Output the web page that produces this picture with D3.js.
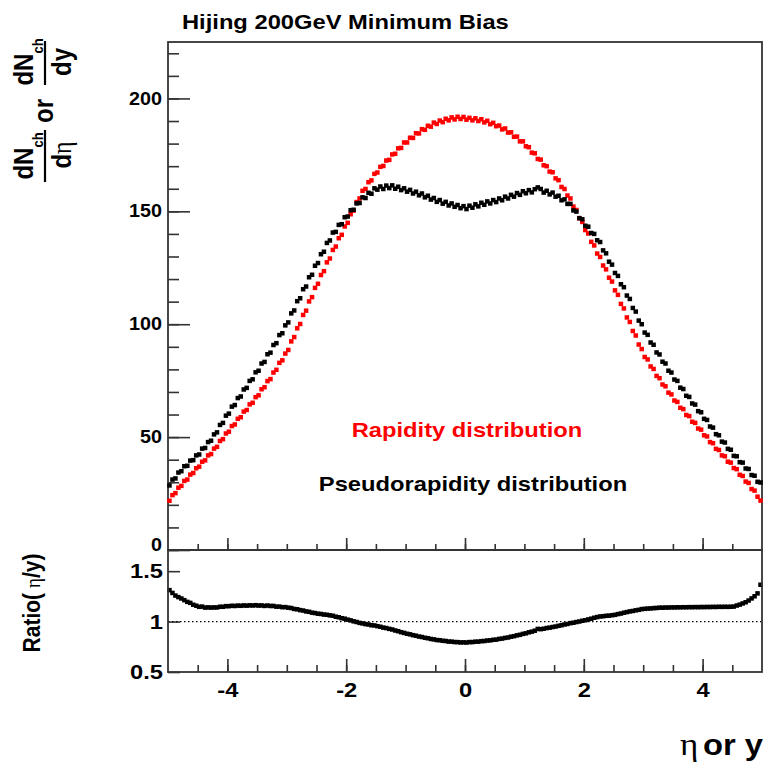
<!DOCTYPE html>
<html>
<head>
<meta charset="utf-8">
<script src="https://cdn.jsdelivr.net/npm/d3@7"></script>
<style>
  body { margin: 0; background: #fff; }
  text { font-family: "Liberation Sans", Arial, Helvetica, sans-serif; font-weight: bold; }
</style>
</head>
<body>
<script>
// Histogram binning: 200 bins of 0.05 from -5 to 5
const binStart = -5;
const binWidth = 0.05;

// dN/dy (rapidity), bin by bin from -5 to 5
const rapidity = [
  21.8, 24.3, 25.2, 27.6, 28.4, 30.6, 31.2, 33.4, 34.1, 36.2,
  36.9, 39.1, 39.7, 41.9, 42.5, 44.9, 45.7, 48.3, 49.1, 51.6,
  52.4, 54.9, 55.6, 58.1, 58.8, 61.3, 62.0, 64.5, 65.2, 67.7,
  68.5, 71.2, 72.1, 74.8, 75.7, 78.6, 79.8, 82.9, 84.0, 87.0,
  88.6, 92.4, 94.3, 98.2, 100.1, 104.1, 106.0, 110.1, 112.0, 116.1,
  117.9, 121.8, 123.5, 127.4, 129.1, 132.9, 134.4, 138.1, 139.6, 143.3,
  144.9, 148.7, 150.3, 154.1, 155.7, 159.1, 159.9, 162.9, 163.7, 166.6,
  167.2, 169.7, 170.1, 172.5, 172.8, 175.2, 175.5, 177.9, 178.1, 180.5,
  180.5, 182.6, 182.5, 184.6, 184.5, 186.4, 186.1, 187.9, 187.5, 189.3,
  188.7, 190.2, 189.5, 191.0, 190.3, 191.6, 190.7, 191.9, 190.9, 191.8,
  190.6, 191.4, 190.3, 191.2, 190.0, 190.8, 189.4, 190.1, 188.6, 189.2,
  187.7, 188.0, 186.3, 186.7, 184.9, 185.0, 183.0, 183.1, 181.0, 181.0,
  178.8, 178.4, 176.0, 175.7, 173.2, 172.9, 170.4, 170.0, 167.6, 167.3,
  164.6, 163.8, 160.8, 159.9, 157.0, 155.7, 152.1, 150.6, 146.9, 145.3,
  141.7, 140.2, 136.5, 134.9, 131.3, 129.8, 126.0, 124.3, 120.6, 118.9,
  115.0, 113.0, 109.0, 107.0, 103.0, 101.0, 97.0, 95.0, 91.0, 89.0,
  85.5, 84.4, 81.3, 80.2, 77.1, 76.1, 73.3, 72.5, 69.7, 68.9,
  66.2, 65.6, 63.0, 62.4, 59.8, 59.3, 56.8, 56.3, 53.8, 53.3,
  50.8, 50.3, 47.8, 47.3, 44.8, 44.3, 41.9, 41.5, 39.1, 38.7,
  36.3, 35.8, 33.3, 32.8, 30.3, 29.7, 27.0, 26.3, 23.6, 21.9
];

// dN/deta (pseudorapidity), same bins
const pseudorapidity = [
  28.6, 31.2, 31.7, 34.3, 34.9, 37.1, 37.3, 39.6, 39.8, 41.9,
  42.3, 44.9, 45.2, 47.8, 48.4, 51.2, 52.1, 55.4, 56.3, 59.5,
  60.4, 63.5, 64.2, 67.3, 68.0, 71.1, 71.8, 74.9, 75.6, 78.7,
  79.4, 82.6, 83.3, 86.7, 87.4, 90.8, 91.6, 95.2, 96.0, 99.5,
  100.8, 104.8, 106.1, 110.2, 111.5, 115.5, 116.7, 120.8, 121.9, 125.9,
  127.1, 131.0, 132.1, 136.0, 137.1, 140.6, 140.9, 144.0, 144.3, 147.4,
  147.7, 150.5, 150.7, 153.5, 153.7, 156.2, 155.9, 158.2, 157.8, 160.2,
  159.6, 161.0, 159.9, 161.4, 160.3, 161.5, 160.0, 160.9, 159.4, 160.2,
  158.7, 159.5, 157.9, 158.7, 157.1, 157.9, 156.2, 156.9, 155.2, 155.9,
  154.2, 155.0, 153.4, 154.2, 152.6, 153.5, 152.0, 152.8, 151.4, 152.3,
  151.0, 152.5, 151.6, 153.1, 152.2, 153.8, 152.9, 154.4, 153.5, 155.0,
  154.1, 155.7, 154.9, 156.5, 155.7, 157.3, 156.5, 158.1, 157.3, 158.9,
  158.0, 159.4, 158.4, 159.8, 160.6, 159.9, 158.3, 159.1, 157.5, 158.3,
  156.5, 156.9, 154.9, 155.3, 153.3, 153.3, 150.4, 149.9, 147.0, 146.5,
  143.6, 143.2, 140.4, 140.0, 137.2, 136.4, 132.7, 131.4, 127.7, 126.4,
  122.7, 121.4, 117.7, 116.4, 112.7, 111.2, 107.2, 105.6, 101.6, 100.0,
  96.3, 95.3, 91.9, 90.9, 87.5, 86.6, 83.4, 82.6, 79.4, 78.6,
  75.5, 74.9, 71.9, 71.3, 68.3, 67.8, 64.9, 64.4, 61.5, 61.0,
  58.1, 57.6, 54.7, 54.2, 51.3, 50.8, 48.0, 47.6, 44.8, 44.4,
  41.7, 41.5, 38.9, 38.7, 36.1, 35.9, 33.2, 32.9, 30.2, 29.9
];

// Tick values
const yTicksTop = [0, 50, 100, 150, 200];
const yTicksRatio = [0.5, 1, 1.5];
const xTicks = [-4, -2, 0, 2, 4];

// Bin centres and the eta/y ratio
const centers = rapidity.map((d, i) => binStart + binWidth * (i + 0.5));
const ratio = pseudorapidity.map((d, i) => d / rapidity[i]);

// Page geometry
const W = 765, H = 765;
const SX = 1.13; // the reference picture is a bit wider than tall: stretch text
const L = 168, R = 762, T1 = 42, B1 = 550, B2 = 672;
const FRAME = "#333";
const plain = d => String(d); // plain hyphen minus, like the reference

const svg = d3.select("body").append("svg")
    .attr("width", W)
    .attr("height", H);

const x = d3.scaleLinear().domain([-5, 5]).range([L, R]);
const yTop = d3.scaleLinear().domain([0, 225]).range([B1, T1]);
const yRat = d3.scaleLinear().domain([0.5, 1.7]).range([B2, B1 + 1]);

// Stretch axis labels horizontally around their anchor
function stretch(g, size) {
    g.attr("font-family", null).attr("font-size", null);
    g.selectAll("text").each(function () {
        const t = d3.select(this);
        const tx = +t.attr("x") || 0;
        t.attr("x", 0)
            .attr("font-size", size)
            .attr("fill", "#000")
            .attr("transform", `translate(${tx},0) scale(${SX},1)`);
    });
}

// Draw one axis layer without the domain line
function axisLayer(gen, tx, ty, size) {
    const g = svg.append("g")
        .attr("transform", `translate(${tx},${ty})`)
        .call(gen);
    g.select(".domain").remove();
    g.selectAll("line").attr("stroke", FRAME).attr("stroke-width", 1.6);
    if (size) stretch(g, size);
    return g;
}

// ---- upper pad ----
axisLayer(d3.axisLeft(yTop).tickValues(d3.range(0, 225, 10))
    .tickSize(-11).tickFormat(""), L, 0);
const yAxisTop = axisLayer(d3.axisLeft(yTop).tickValues(yTicksTop)
    .tickSize(-22).tickPadding(6).tickFormat(plain), L, 0, 17.5);
// ROOT lifts the "0" label off the pad edge
yAxisTop.selectAll(".tick").filter(d => d === 0).select("text").attr("y", -5);

const minorX = d3.range(-4.5, 5, 0.5);
axisLayer(d3.axisBottom(x).tickValues(minorX).tickSize(-6).tickFormat(""), 0, B1);
axisLayer(d3.axisBottom(x).tickValues(xTicks).tickSize(-12).tickFormat(""), 0, B1);

svg.append("rect")
    .attr("x", L).attr("y", T1)
    .attr("width", R - L).attr("height", B1 - T1)
    .attr("fill", "none").attr("stroke", FRAME).attr("stroke-width", 1.8);

const sq = 4.5;
svg.append("g").selectAll("rect")
    .data(rapidity)
    .join("rect")
    .attr("x", (d, i) => x(centers[i]) - sq / 2)
    .attr("y", d => yTop(d) - sq / 2)
    .attr("width", sq).attr("height", sq)
    .attr("fill", "#ff0000");

svg.append("g").selectAll("rect")
    .data(pseudorapidity)
    .join("rect")
    .attr("x", (d, i) => x(centers[i]) - sq / 2)
    .attr("y", d => yTop(d) - sq / 2)
    .attr("width", sq).attr("height", sq)
    .attr("fill", "#000");

// ---- lower pad (ratio) ----
axisLayer(d3.axisLeft(yRat).tickValues(yTicksRatio)
    .tickSize(-12).tickPadding(5).tickFormat(plain), L, 0, 21);
axisLayer(d3.axisBottom(x).tickValues(minorX).tickSize(-7).tickFormat(""), 0, B2);
axisLayer(d3.axisBottom(x).tickValues(xTicks).tickSize(-13).tickPadding(10)
    .tickFormat(plain), 0, B2, 21);

svg.append("line")
    .attr("x1", L).attr("x2", R)
    .attr("y1", yRat(1)).attr("y2", yRat(1))
    .attr("stroke", "#000").attr("stroke-width", 1.2)
    .attr("stroke-dasharray", "1.5,2.5");

svg.append("g").selectAll("rect")
    .data(ratio)
    .join("rect")
    .attr("x", (d, i) => x(centers[i]) - sq / 2)
    .attr("y", d => yRat(d) - sq / 2)
    .attr("width", sq).attr("height", sq)
    .attr("fill", "#000");

svg.append("rect")
    .attr("x", L).attr("y", B1)
    .attr("width", R - L).attr("height", B2 - B1)
    .attr("fill", "none").attr("stroke", FRAME).attr("stroke-width", 1.8);

// ---- texts ----
svg.append("text")
    .attr("transform", `translate(182,29) scale(${SX},1)`)
    .attr("font-size", 21)
    .text("Hijing 200GeV Minimum Bias");

svg.append("text")
    .attr("transform", `translate(467,437) scale(${SX},1)`)
    .attr("text-anchor", "middle")
    .attr("font-size", 21)
    .attr("fill", "#ff0000")
    .text("Rapidity distribution");

svg.append("text")
    .attr("transform", `translate(473,491) scale(${SX},1)`)
    .attr("text-anchor", "middle")
    .attr("font-size", 21)
    .text("Pseudorapidity distribution");

// x title: "η or y"
const xt = svg.append("text")
    .attr("transform", `translate(763,755) scale(${SX},1)`)
    .attr("text-anchor", "end")
    .attr("font-size", 29);
xt.append("tspan")
    .attr("font-family", "'Liberation Serif', 'DejaVu Serif', serif")
    .attr("font-weight", "normal")
    .attr("font-size", 31)
    .text("η");
xt.append("tspan").attr("dx", 4).text("or y");

// rotated text helper: (px, py) is the baseline anchor on the page
function rotText(px, py, size) {
    return svg.append("text")
        .attr("transform", `translate(${px},${py}) scale(${SX},1) rotate(-90)`)
        .attr("text-anchor", "middle")
        .attr("font-size", size);
}

// ratio title
const rt = rotText(40, 603, 21);
rt.append("tspan").text("Ratio(");
rt.append("tspan")
    .attr("font-family", "'Liberation Serif', 'DejaVu Serif', serif")
    .attr("font-weight", "normal")
    .attr("font-size", 19)
    .attr("dx", 5)
    .text("η");
rt.append("tspan").text("/y)");

// y title: dNch/dη or dNch/dy
function numerator(py) {
    const t = rotText(33, py, 24);
    t.append("tspan").text("dN");
    t.append("tspan").attr("font-size", 13).attr("dy", 9).text("ch");
}
function fracBar(y1, y2) {
    svg.append("line")
        .attr("x1", 45).attr("x2", 45)
        .attr("y1", y1).attr("y2", y2)
        .attr("stroke", "#000").attr("stroke-width", 2.2);
}

numerator(156);
fracBar(130, 182);
const d1 = rotText(71, 155, 24);
d1.append("tspan").text("d");
d1.append("tspan")
    .attr("font-family", "'Liberation Serif', 'DejaVu Serif', serif")
    .attr("font-weight", "normal")
    .text("η");

rotText(53, 111, 24).text("or");

numerator(62);
fracBar(41, 85);
rotText(71, 62, 24).text("dy");
</script>
</body>
</html>
